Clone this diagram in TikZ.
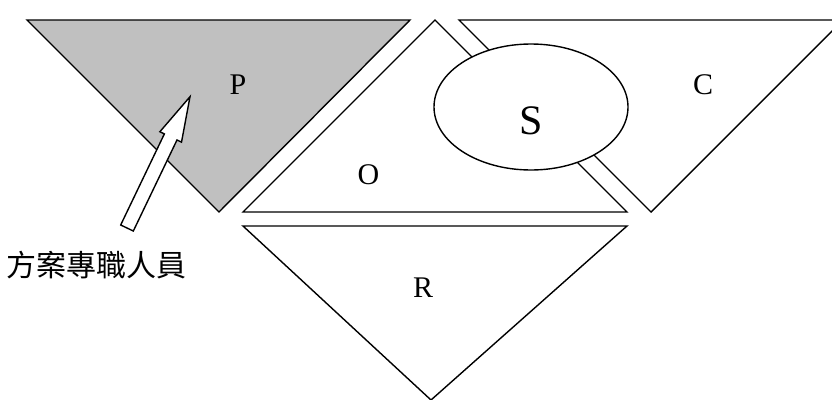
\documentclass[tikz,border=0pt]{standalone}
\usepackage{fontspec}
\setmainfont{Liberation Serif}
\newfontfamily\cjk{Noto Sans CJK TC}
\usetikzlibrary{calc}
\definecolor{pgray}{RGB}{192,192,192}

\begin{document}
\begin{tikzpicture}[
                    x=1pt, y=-1pt,
                    line width=1.4pt,
                    font=\fontsize{30}{36}\selectfont,
                    tri/.style={draw=black, fill=white},
                    lbl/.style={inner sep=0pt}
                ]
                    \useasboundingbox (0,0) rectangle (832,399);
                    \clip (0,0) rectangle (832,399);
                    % the four triangles and the ellipse
                    \draw[tri, fill=pgray] (27,20) -- (410,20) -- (219,212) -- cycle;
                    \draw[tri] (435,20) -- (627,212) -- (243,212) -- cycle;
                    \draw[tri] (459,20) -- (843,20) -- (651,212) -- cycle;
                    \draw[tri] (243,226) -- (627,226) -- (431,400) -- cycle;
                    \draw[tri] (531,107) ellipse [x radius=97, y radius=63];
                    % labels
                    \node[lbl] (P) at (238,85) {P};
                    \node[lbl] (O) at (368.5,175) {O};
                    \node[lbl] (C) at (703,85) {C};
                    \node[lbl] (R) at (423,287.5) {R};
                    \node[lbl, font=\fontsize{42}{50}\selectfont] (S) at (531.5,120.5) {S};
                    \node[lbl, font=\cjk\fontsize{30}{36}\selectfont] (staff) at (96.5,265) {方案專職人員};
                    % block arrow
                    \coordinate (tail) at (127,228);
                    \coordinate (tip) at (190,96.7);
                    \coordinate (neck) at ($(tail)!101pt!(tip)$);
                    \draw[tri] ($(tail)!7pt!90:(tip)$) -- ($(neck)!7pt!90:(tip)$)
                        -- ($(neck)!12pt!90:(tip)$) -- (tip)
                        -- ($(neck)!12pt!-90:(tip)$) -- ($(neck)!7pt!-90:(tip)$)
                        -- ($(tail)!7pt!-90:(tip)$) -- cycle;
                \end{tikzpicture}
\end{document}
